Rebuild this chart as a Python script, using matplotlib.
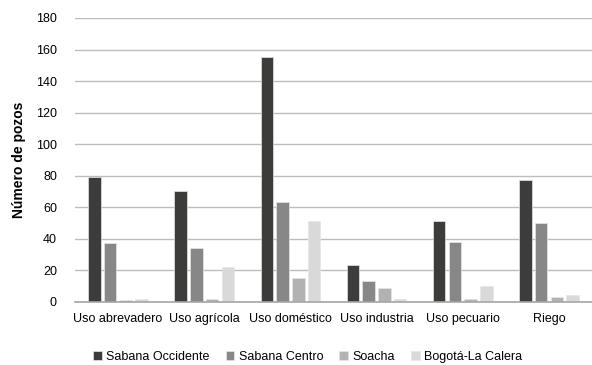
import matplotlib
matplotlib.use("Agg")
import matplotlib.pyplot as plt
import numpy as np

plt.rcParams['font.family'] = ['Liberation Sans', 'DejaVu Sans']

categories = ["Uso abrevadero", "Uso agrícola", "Uso doméstico",
              "Uso industria", "Uso pecuario", "Riego"]
series_names = ["Sabana Occidente", "Sabana Centro", "Soacha", "Bogotá-La Calera"]
sabana_occidente = [79, 70, 155, 23, 51, 77]
sabana_centro = [37, 34, 63, 13, 38, 50]
soacha = [1, 2, 15, 9, 2, 3]
bogota_calera = [2, 22, 51, 2, 10, 4]
colors = ["#3c3c3a", "#878787", "#b2b2b2", "#d9d9d9"]

series = [sabana_occidente, sabana_centro, soacha, bogota_calera]

fig = plt.figure(figsize=(5.92, 3.65), dpi=100)
ax = fig.add_axes([75 / 592, 1 - 301.7 / 365, 517 / 592, (301.7 - 18) / 365])

x = np.arange(len(categories))
width = 0.145
step = 0.182
for i, (vals, name, col) in enumerate(zip(series, series_names, colors)):
    offs = (i - 1.5) * step
    ax.bar(x + offs, vals, width, color=col, label=name,
           edgecolor="#e6e6e6", linewidth=0.5, zorder=3)

ax.set_xlim(-0.5, len(categories) - 0.5)
ax.set_ylim(0, 180)
ax.set_yticks(range(0, 181, 20))
ax.grid(axis='y', color='#bdbdbd', linewidth=1, zorder=0)
for s in ['top', 'right', 'left']:
    ax.spines[s].set_visible(False)
ax.spines['bottom'].set_color('#a6a6a6')
ax.spines['bottom'].set_linewidth(1.2)
ax.spines['bottom'].set_zorder(4)
ax.tick_params(length=0, labelsize=9, colors='black')
ax.tick_params(axis='y', pad=13)
ax.tick_params(axis='x', pad=8)
ax.set_xticks(x)
ax.set_xticklabels(categories)
ax.set_ylabel("Número de pozos", fontsize=10, fontweight='bold', labelpad=7)

ax.legend(loc='upper center', bbox_to_anchor=(0.45, -0.135), ncol=4,
          frameon=False, fontsize=9, handlelength=0.7, handleheight=0.7,
          handletextpad=0.35, columnspacing=1.3)

fig.savefig("out.png", dpi=100)
